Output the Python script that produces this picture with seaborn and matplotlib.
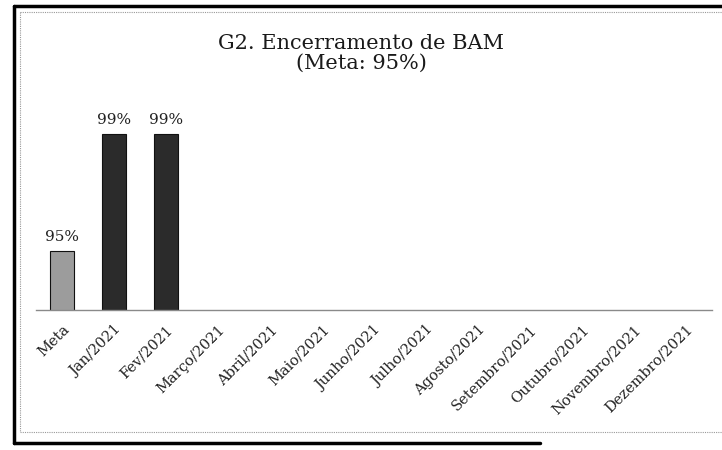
import numpy as np
import pandas as pd
import matplotlib
matplotlib.use("Agg")
import matplotlib.pyplot as plt
import seaborn as sns
from matplotlib.lines import Line2D

categories = ["Meta", "Jan/2021", "Fev/2021", "Março/2021", "Abril/2021", "Maio/2021",
              "Junho/2021", "Julho/2021", "Agosto/2021", "Setembro/2021", "Outubro/2021",
              "Novembro/2021", "Dezembro/2021"]
values = [95, 99, 99, None, None, None, None, None, None, None, None, None, None]
title_lines = ["G2. Encerramento de BAM", "(Meta: 95%)"]

sns.set_theme(style="white")
plt.rcParams['font.family'] = ['DejaVu Serif', 'Liberation Serif']

df = pd.DataFrame({"cat": categories,
                   "val": [np.nan if v is None else v for v in values]})
palette = {c: ("#9c9c9c" if c == "Meta" else "#2b2b2b") for c in categories}

fig = plt.figure(figsize=(7.22, 4.5), dpi=100)
ax = fig.add_axes([0.05, 0.311, 0.936, 0.456])
sns.barplot(data=df, x="cat", y="val", hue="cat", palette=palette, order=categories,
            hue_order=categories, legend=False, width=0.46, edgecolor="#111111",
            linewidth=0.8, ax=ax, dodge=False)

ax.set_ylim(93, 100)
ax.set_xlim(-0.5, len(categories) - 0.5)
ax.set_xlabel("")
ax.set_ylabel("")
ax.set_yticks([])
for s in ["top", "right", "left"]:
    ax.spines[s].set_visible(False)
ax.spines["bottom"].set_color("#8a8a8a")
ax.spines["bottom"].set_linewidth(1.0)
ax.tick_params(axis="x", length=0, pad=9)
ax.set_xticks(range(len(categories)))
ax.set_xticklabels(categories, rotation=45, ha="right", rotation_mode="anchor",
                   fontsize=10.5, color="#222222")

for cont in ax.containers:
    for bar in cont:
        h = bar.get_height()
        if h is None or np.isnan(h):
            continue
        ax.annotate(f"{h:.0f}%", (bar.get_x() + bar.get_width() / 2, h),
                    xytext=(0, 5), textcoords="offset points", ha="center", va="bottom",
                    fontsize=11, color="#222222")

fig.text(0.5, 0.904, title_lines[0], ha="center", va="center", fontsize=15, color="#1a1a1a")
fig.text(0.5, 0.860, title_lines[1], ha="center", va="center", fontsize=15, color="#1a1a1a")

# frames
W, H = 722, 450
def fx(x): return x / W
def fy(y): return 1 - y / H
fig.add_artist(Line2D([fx(14), fx(14)], [fy(6), fy(443)], color="black", lw=2.5))
fig.add_artist(Line2D([fx(14), 1.0], [fy(6), fy(6)], color="black", lw=2.5))
fig.add_artist(Line2D([fx(14), fx(540)], [fy(443), fy(443)], color="black", lw=2.5))
fig.add_artist(Line2D([fx(20), fx(20)], [fy(12), fy(432)], color="#999999", lw=0.8, ls=(0, (1, 1))))
fig.add_artist(Line2D([fx(20), 1.0], [fy(12), fy(12)], color="#999999", lw=0.8, ls=(0, (1, 1))))
fig.add_artist(Line2D([fx(20), 1.0], [fy(432), fy(432)], color="#999999", lw=0.8, ls=(0, (1, 1))))

fig.savefig("out.png", dpi=100)
